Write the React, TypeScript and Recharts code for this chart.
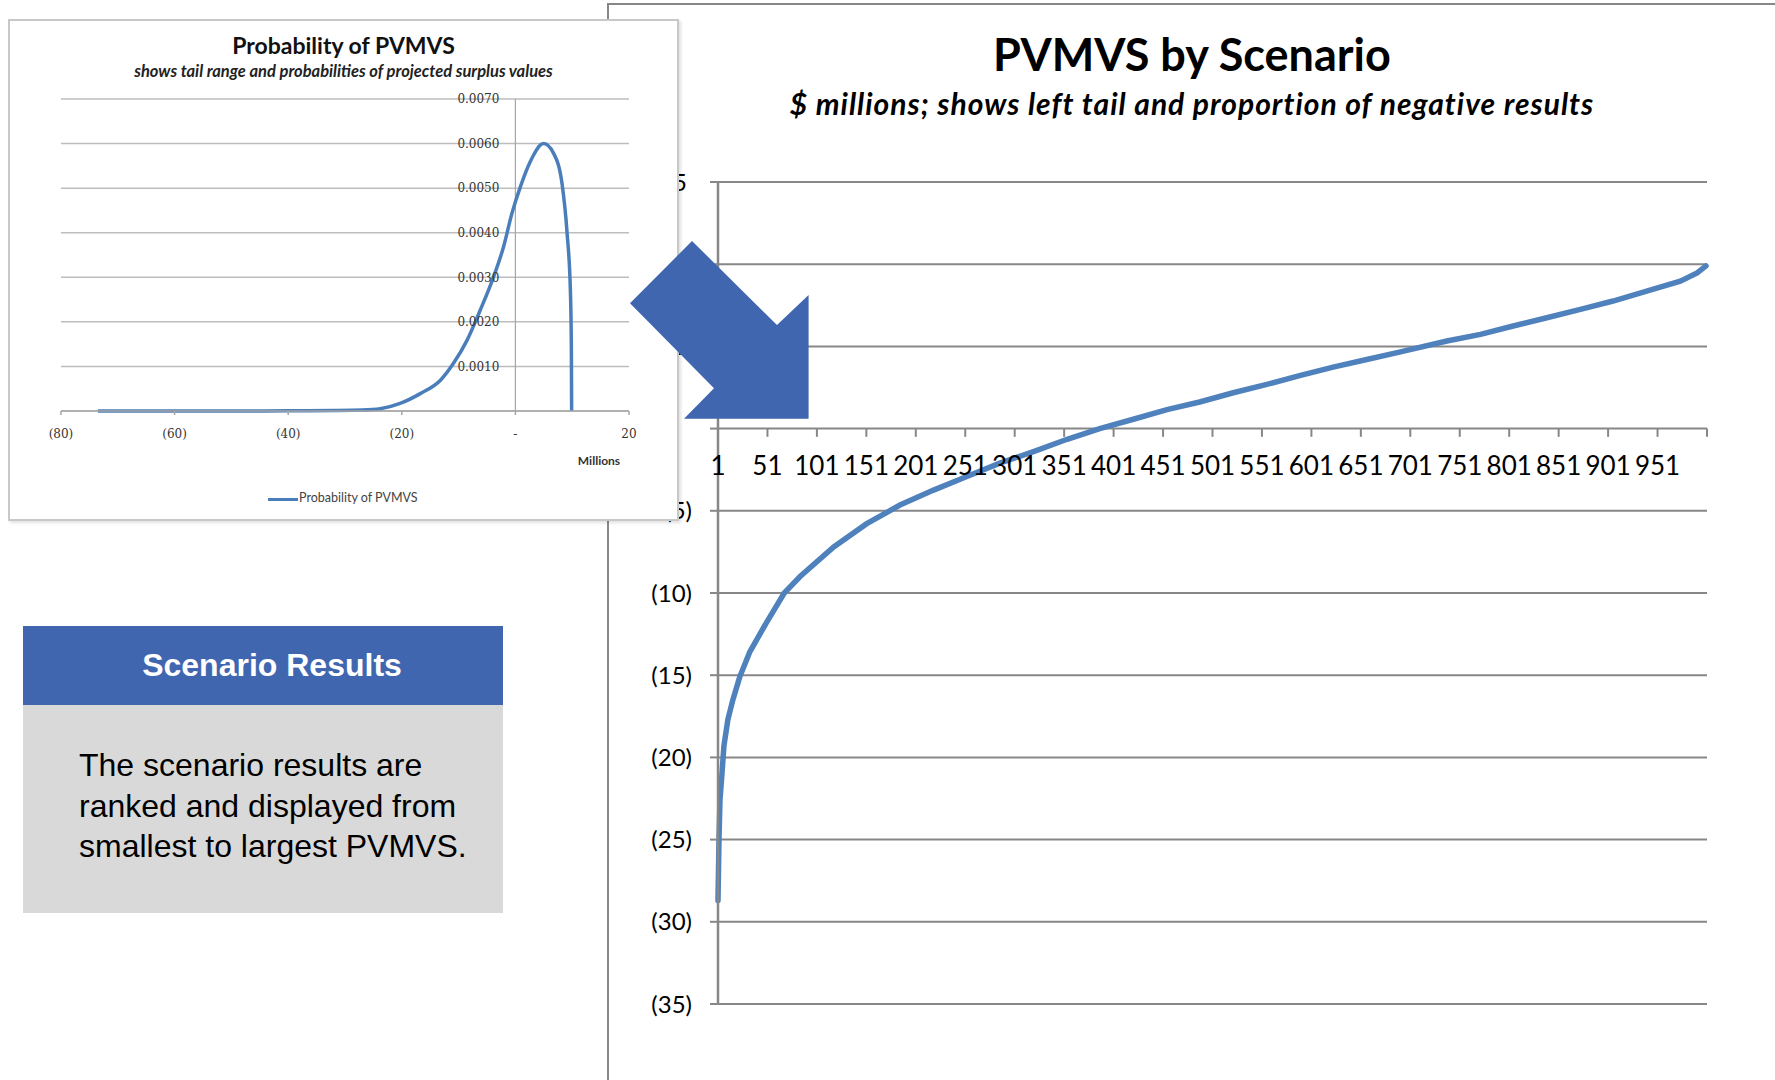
import {
  CartesianGrid,
  Line,
  LineChart,
  ReferenceDot,
  ReferenceLine,
  XAxis,
  YAxis,
} from "recharts";

// ranked scenario results, $ millions
const scenarioIndex = [
  1, 2, 3, 5, 7, 11, 16, 23, 33, 50, 68, 84, 118, 151, 185, 219, 252, 286,
  320, 354, 387, 421, 455, 488, 522, 556, 590, 623, 657, 690, 738, 772, 805,
  839, 873, 906, 940, 974, 991, 1000,
];
const scenarioPvmvs = [
  -28.7, -25.0, -22.6, -21.0, -19.3, -17.7, -16.5, -15.1, -13.6, -11.8, -10.0,
  -9.0, -7.2, -5.8, -4.65, -3.74, -2.93, -2.1, -1.4, -0.65, 0.0, 0.57, 1.15,
  1.62, 2.18, 2.69, 3.24, 3.74, 4.2, 4.65, 5.33, 5.73, 6.24, 6.74, 7.25, 7.76,
  8.36, 8.97, 9.47, 9.9,
];
const scenarioTicks = [
  1, 51, 101, 151, 201, 251, 301, 351, 401, 451, 501, 551, 601, 651, 701, 751,
  801, 851, 901, 951, 1001,
];
const pvmvsTicks = [-35, -30, -25, -20, -15, -10, -5, 0, 5, 10, 15];

// probability density of PVMVS (small inset chart)
const pvmvsMillions = [
  -73.5, -60, -50, -40, -32, -27, -23.8, -20.3, -16.75, -13.2, -10.9, -8.5,
  -6.2, -3.84, -2.07, -0.6, 0.87, 2.63, 4.97, 6.73, 8.2, 9.1, 9.68, 9.85, 9.9,
];
const probability = [
  0, 0, 0, 0.000005, 0.00001, 0.00002, 0.00005, 0.00017, 0.00039, 0.00069,
  0.00107, 0.00159, 0.00226, 0.00301, 0.00369, 0.00444, 0.00503, 0.0056, 0.006,
  0.00578, 0.00511, 0.00399, 0.00271, 0.00144, 0,
];
const millionTicks = [-80, -60, -40, -20, 0, 20];
const probabilityTicks = [0, 0.001, 0.002, 0.003, 0.004, 0.005, 0.006, 0.007];

const scenarioData = scenarioIndex.map((s, i) => ({
  scenario: s,
  pvmvs: scenarioPvmvs[i],
}));
const densityData = pvmvsMillions.map((m, i) => ({
  millions: m,
  prob: probability[i],
}));

const accounting = (v: number) =>
  v < 0 ? `(${-v})` : v === 0 ? "-" : String(v);
// excel accounting style: positives keep room for the closing paren
const accountingBig = (v: number) =>
  v < 0 ? `(${-v})` : v === 0 ? "" : `${v}\u2008`;

const BLUE = "#4166b0";
const LINE_BLUE = "#4f81bd";
const GRID = "#878787";

export default function App() {
  return (
    <div
      style={{
        position: "absolute",
        left: 0,
        top: 0,
        width: 1775,
        height: 1080,
        overflow: "hidden",
        background: "#fff",
        fontFamily: "Lato, sans-serif",
      }}
    >
      {/* frame of the big chart */}
      <div
        style={{
          position: "absolute",
          left: 607,
          top: 3,
          width: 1180,
          height: 1090,
          borderTop: `2px solid ${GRID}`,
          borderLeft: `2px solid ${GRID}`,
        }}
      />
      <div
        style={{
          position: "absolute",
          left: 692,
          width: 1000,
          top: 32,
          textAlign: "center",
          fontSize: 45,
          lineHeight: 1,
          fontWeight: 700,
          color: "#000",
        }}
      >
        PVMVS by Scenario
      </div>
      <div
        style={{
          position: "absolute",
          left: 642,
          width: 1100,
          top: 88,
          textAlign: "center",
          fontSize: 30,
          letterSpacing: 1,
          lineHeight: 1,
          fontWeight: 700,
          fontStyle: "italic",
          color: "#000",
        }}
      >
        $ millions; shows left tail and proportion of negative results
      </div>

      <div style={{ position: "absolute", left: 600, top: 150 }}>
        <LineChart
          width={1140}
          height={900}
          data={scenarioData}
          margin={{ top: 32, right: 33, bottom: 46, left: 48 }}
        >
          <CartesianGrid vertical={false} stroke={GRID} strokeWidth={2} />
          <XAxis
            type="number"
            dataKey="scenario"
            domain={[1, 1001]}
            ticks={scenarioTicks}
            hide
          />
          <YAxis
            type="number"
            domain={[-35, 15]}
            ticks={pvmvsTicks}
            width={70}
            tickSize={8}
            tickMargin={18}
            tickFormatter={accountingBig}
            axisLine={{ stroke: GRID, strokeWidth: 2.5 }}
            tickLine={{ stroke: GRID, strokeWidth: 2 }}
            tick={{ fontSize: 24, fontFamily: "Lato", fill: "#000" }}
          />
          {scenarioTicks.slice(1).map((t) => (
            <ReferenceLine
              key={`tk-${t}`}
              segment={[
                { x: t, y: 0 },
                { x: t, y: -0.5 },
              ]}
              stroke={GRID}
              strokeWidth={2}
            />
          ))}
          {scenarioTicks.slice(0, -1).map((t) => (
            <ReferenceDot
              key={`lb-${t}`}
              x={t}
              y={0}
              r={0}
              stroke="none"
              label={{
                value: String(t),
                position: "bottom",
                offset: 28,
                fontSize: 26,
                fontFamily: "Lato",
                fill: "#000",
              }}
            />
          ))}
          <Line
            type="linear"
            dataKey="pvmvs"
            stroke={LINE_BLUE}
            strokeWidth={5.5}
            strokeLinecap="round"
            dot={false}
            isAnimationActive={false}
          />
        </LineChart>
      </div>

      {/* inset: probability of PVMVS */}
      <div
        style={{
          position: "absolute",
          left: 8,
          top: 19,
          width: 671,
          height: 502,
          background: "#fff",
          boxShadow: "inset 0 0 0 2px #c8c8c8, 2px 2px 3px rgba(0,0,0,0.12)",
        }}
      >
        <div
          style={{
            position: "absolute",
            left: 0,
            width: 671,
            top: 15,
            textAlign: "center",
            fontSize: 23,
            lineHeight: 1,
            fontWeight: 700,
            color: "#111",
          }}
        >
          Probability of PVMVS
        </div>
        <div
          style={{
            position: "absolute",
            left: 0,
            width: 671,
            top: 43.5,
            textAlign: "center",
            fontSize: 16.5,
            lineHeight: 1,
            fontWeight: 700,
            fontStyle: "italic",
            color: "#222",
          }}
        >
          shows tail range and probabilities of projected surplus values
        </div>
        <div style={{ position: "absolute", left: 0, top: 0 }}>
          <LineChart
            width={671}
            height={502}
            data={densityData}
            margin={{ top: 80, right: 50, bottom: 80, left: 53 }}
          >
            <CartesianGrid
              vertical={false}
              horizontalValues={probabilityTicks}
              stroke="#bdbdbd"
              strokeWidth={1.5}
            />
            <XAxis
              type="number"
              dataKey="millions"
              domain={[-80, 20]}
              ticks={millionTicks}
              height={30}
              tickSize={4}
              tickMargin={14}
              tickFormatter={accounting}
              axisLine={{ stroke: "#a6a6a6", strokeWidth: 1.5 }}
              tickLine={{ stroke: "#a6a6a6", strokeWidth: 1.5 }}
              tick={{ fontSize: 12, fontFamily: "DejaVu Serif", fill: "#333" }}
            />
            <YAxis
              type="number"
              domain={[0, 0.007]}
              ticks={probabilityTicks}
              hide
            />
            <ReferenceLine x={0} stroke="#a6a6a6" strokeWidth={1.2} />
            {probabilityTicks.slice(1).map((p) => (
              <ReferenceDot
                key={`p-${p}`}
                x={0}
                y={p}
                r={0}
                stroke="none"
                label={{
                  value: p.toFixed(4),
                  position: "left",
                  offset: 16,
                  fontSize: 12,
                  fontFamily: "DejaVu Serif",
                  fill: "#333",
                }}
              />
            ))}
            <Line
              type="monotone"
              dataKey="prob"
              stroke="#4a7ebb"
              strokeWidth={3.5}
              dot={false}
              isAnimationActive={false}
            />
          </LineChart>
        </div>
        <div
          style={{
            position: "absolute",
            left: 541,
            width: 100,
            top: 436,
            textAlign: "center",
            fontSize: 12,
            lineHeight: 1,
            fontWeight: 700,
            color: "#333",
          }}
        >
          Millions
        </div>
        <div
          style={{
            position: "absolute",
            left: 260,
            top: 478.5,
            width: 30,
            height: 3,
            background: "#4a7ebb",
          }}
        />
        <div
          style={{
            position: "absolute",
            left: 291,
            top: 473,
            fontSize: 12.5,
            lineHeight: 1,
            color: "#444",
          }}
        >
          Probability of PVMVS
        </div>
      </div>

      {/* Scenario Results callout */}
      <div
        style={{
          position: "absolute",
          left: 23,
          top: 626,
          width: 480,
          height: 79,
          background: BLUE,
        }}
      />
      <div
        style={{
          position: "absolute",
          left: 42,
          width: 460,
          top: 649,
          textAlign: "center",
          fontFamily: "'Liberation Sans', Arial, sans-serif",
          fontSize: 32,
          lineHeight: 1,
          fontWeight: 700,
          color: "#fff",
        }}
      >
        Scenario Results
      </div>
      <div
        style={{
          position: "absolute",
          left: 23,
          top: 705,
          width: 480,
          height: 208,
          background: "#d9d9d9",
        }}
      />
      <div
        style={{
          position: "absolute",
          left: 79,
          top: 745,
          width: 424,
          fontFamily: "'Liberation Sans', Arial, sans-serif",
          fontSize: 32,
          lineHeight: "40.5px",
          color: "#000",
        }}
      >
        The scenario results are
        <br />
        ranked and displayed from
        <br />
        smallest to largest PVMVS.
      </div>

      {/* arrow */}
      <svg
        width={1775}
        height={1080}
        style={{ position: "absolute", left: 0, top: 0, pointerEvents: "none" }}
      >
        <polygon
          points="692,241 777,325 808.6,295 808.6,418.7 684,418.7 714,388.3 630,303.3"
          fill={BLUE}
        />
      </svg>
    </div>
  );
}
